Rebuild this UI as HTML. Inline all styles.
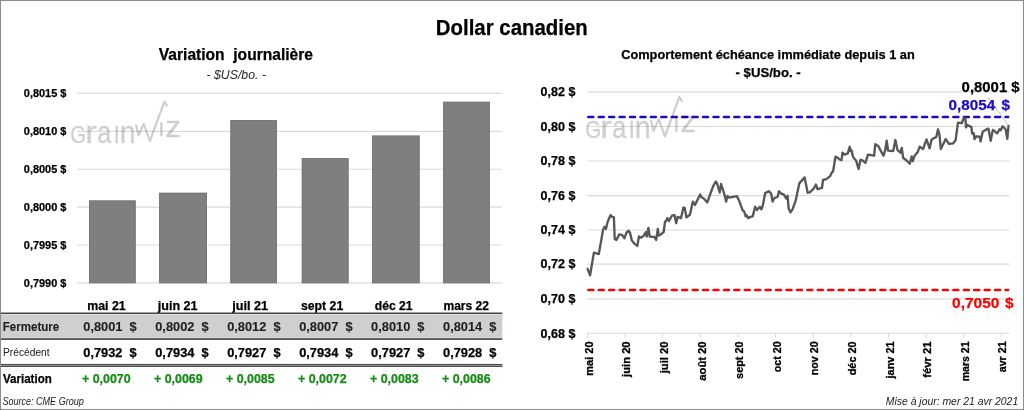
<!DOCTYPE html>
<html lang="fr">
<head>
<meta charset="utf-8">
<title>Dollar canadien</title>
<style>
html,body{margin:0;padding:0;background:#fff;}
body{width:1024px;height:410px;overflow:hidden;}
svg{display:block;font-family:"Liberation Sans", sans-serif;}
</style>
</head>
<body>
<svg width="1024" height="410" viewBox="0 0 1024 410">
<rect x="0" y="0" width="1024" height="410" fill="#fff"/>
<text x="511.8" y="34.6" font-size="21.2" text-anchor="middle" font-weight="bold" stroke="#000" stroke-width="0.25" textLength="152.0" lengthAdjust="spacingAndGlyphs">Dollar canadien</text>
<text x="235.9" y="59.8" font-size="16.2" text-anchor="middle" font-weight="bold" stroke="#000" stroke-width="0.25" textLength="154.2" lengthAdjust="spacingAndGlyphs" xml:space="preserve">Variation  journalière</text>
<text x="236.2" y="78.8" font-size="13.6" text-anchor="middle" font-style="italic" fill="#262626" textLength="59.6" lengthAdjust="spacingAndGlyphs">- $US/bo. -</text>
<line x1="77.2" x2="501.6" y1="93.40" y2="93.40" stroke="#dadada" stroke-width="1.15"/>
<line x1="77.2" x2="501.6" y1="131.30" y2="131.30" stroke="#dadada" stroke-width="1.15"/>
<line x1="77.2" x2="501.6" y1="169.20" y2="169.20" stroke="#dadada" stroke-width="1.15"/>
<line x1="77.2" x2="501.6" y1="207.10" y2="207.10" stroke="#dadada" stroke-width="1.15"/>
<line x1="77.2" x2="501.6" y1="245.00" y2="245.00" stroke="#dadada" stroke-width="1.15"/>
<line x1="77.2" x2="501.6" y1="282.90" y2="282.90" stroke="#dadada" stroke-width="1.15"/>
<text x="66.4" y="97.3" font-size="11.2" text-anchor="end" font-weight="bold" stroke="#000" stroke-width="0.25" textLength="42.6" lengthAdjust="spacingAndGlyphs">0,8015 $</text>
<text x="66.4" y="135.2" font-size="11.2" text-anchor="end" font-weight="bold" stroke="#000" stroke-width="0.25" textLength="42.6" lengthAdjust="spacingAndGlyphs">0,8010 $</text>
<text x="66.4" y="173.1" font-size="11.2" text-anchor="end" font-weight="bold" stroke="#000" stroke-width="0.25" textLength="42.6" lengthAdjust="spacingAndGlyphs">0,8005 $</text>
<text x="66.4" y="211.0" font-size="11.2" text-anchor="end" font-weight="bold" stroke="#000" stroke-width="0.25" textLength="42.6" lengthAdjust="spacingAndGlyphs">0,8000 $</text>
<text x="66.4" y="248.9" font-size="11.2" text-anchor="end" font-weight="bold" stroke="#000" stroke-width="0.25" textLength="42.6" lengthAdjust="spacingAndGlyphs">0,7995 $</text>
<text x="66.4" y="286.8" font-size="11.2" text-anchor="end" font-weight="bold" stroke="#000" stroke-width="0.25" textLength="42.6" lengthAdjust="spacingAndGlyphs">0,7990 $</text>
<rect x="89.0" y="200.5" width="46.65" height="82.4" fill="#7f7f7f"/>
<rect x="89.5" y="201.0" width="45.65" height="81.9" fill="none" stroke="#777" stroke-width="1"/>
<rect x="159.1" y="192.8" width="47.80" height="90.1" fill="#7f7f7f"/>
<rect x="159.6" y="193.3" width="46.80" height="89.6" fill="none" stroke="#777" stroke-width="1"/>
<rect x="230.4" y="120.0" width="46.60" height="162.9" fill="#7f7f7f"/>
<rect x="230.9" y="120.5" width="45.60" height="162.4" fill="none" stroke="#777" stroke-width="1"/>
<rect x="301.8" y="158.0" width="46.70" height="124.9" fill="#7f7f7f"/>
<rect x="302.3" y="158.5" width="45.70" height="124.4" fill="none" stroke="#777" stroke-width="1"/>
<rect x="372.1" y="135.6" width="47.50" height="147.3" fill="#7f7f7f"/>
<rect x="372.6" y="136.1" width="46.50" height="146.8" fill="none" stroke="#777" stroke-width="1"/>
<rect x="443.2" y="101.8" width="46.70" height="181.1" fill="#7f7f7f"/>
<rect x="443.7" y="102.3" width="45.70" height="180.6" fill="none" stroke="#777" stroke-width="1"/>
<g transform="translate(71.6,142.8)" fill="#000" stroke="#000" stroke-width="0.35" opacity="0.19" font-weight="normal"><title>Grainwiz</title>
<text transform="translate(-1.27,0) scale(0.886,1)" font-size="23.0">G</text>
<text transform="translate(13.57,0) scale(1.124,1)" font-size="30.6">r</text>
<text transform="translate(25.77,0) scale(0.827,1)" font-size="30.6">a</text>
<text transform="translate(41.79,0) scale(0.781,1)" font-size="30.6">ı</text>
<text transform="translate(48.16,0) scale(0.931,1)" font-size="30.6">n</text>
<polyline points="64.3,-18 66.9,-7.4 72.2,-19.0 78.3,-1.8 92.8,-41.2 95.8,-36.3" fill="none" stroke-width="2.2" stroke-linejoin="round"/>
<rect x="88.6" y="-20.5" width="2.4" height="14" stroke="none"/>
<text transform="translate(93.6,-5.8) scale(1.06,1)" font-size="29.6">z</text>
</g>
<text x="106.5" y="309.8" font-size="12.4" text-anchor="middle" font-weight="bold" stroke="#000" stroke-width="0.25" textLength="38.5" lengthAdjust="spacingAndGlyphs">mai 21</text>
<text x="177.7" y="309.8" font-size="12.4" text-anchor="middle" font-weight="bold" stroke="#000" stroke-width="0.25" textLength="39.8" lengthAdjust="spacingAndGlyphs">juin 21</text>
<text x="250.2" y="309.8" font-size="12.4" text-anchor="middle" font-weight="bold" stroke="#000" stroke-width="0.25" textLength="36.0" lengthAdjust="spacingAndGlyphs">juil 21</text>
<text x="322.1" y="309.8" font-size="12.4" text-anchor="middle" font-weight="bold" stroke="#000" stroke-width="0.25" textLength="42.2" lengthAdjust="spacingAndGlyphs">sept 21</text>
<text x="393.7" y="309.8" font-size="12.4" text-anchor="middle" font-weight="bold" stroke="#000" stroke-width="0.25" textLength="37.8" lengthAdjust="spacingAndGlyphs">déc 21</text>
<text x="466.2" y="309.8" font-size="12.4" text-anchor="middle" font-weight="bold" stroke="#000" stroke-width="0.25" textLength="45.4" lengthAdjust="spacingAndGlyphs">mars 22</text>
<rect x="1" y="313" width="501.3" height="26" fill="#d0cece"/>
<rect x="1" y="314.0" width="501.3" height="0.9" fill="#e3e1e1"/>
<rect x="1" y="337.3" width="501.3" height="0.9" fill="#dedcdc"/>
<rect x="1" y="312.5" width="501.3" height="1.5" fill="#454545"/>
<rect x="1" y="338.3" width="501.3" height="1.6" fill="#454545"/>
<rect x="1" y="364.0" width="501.3" height="2.95" fill="#a3a3a3"/>
<rect x="1" y="363.95" width="501.3" height="1.1" fill="#4a4a4a"/>
<rect x="1" y="365.9" width="501.3" height="1.1" fill="#4a4a4a"/>
<text x="2.7" y="330.8" font-size="12.4" text-anchor="start" font-weight="bold" stroke="#221f26" stroke-width="0.12" fill="#221f26" textLength="56.6" lengthAdjust="spacingAndGlyphs">Fermeture</text>
<text x="3.0" y="356.4" font-size="11.2" text-anchor="start" fill="#1a1a1a" textLength="46.6" lengthAdjust="spacingAndGlyphs">Précédent</text>
<text x="3.0" y="382.8" font-size="12.4" text-anchor="start" font-weight="bold" stroke="#000" stroke-width="0.25" textLength="48.8" lengthAdjust="spacingAndGlyphs">Variation</text>
<text x="136.7" y="330.6" font-size="12.4" text-anchor="end" font-weight="bold" stroke="#221f26" stroke-width="0.12" fill="#221f26" textLength="53.4" lengthAdjust="spacingAndGlyphs" xml:space="preserve">0,8001  $</text>
<text x="136.7" y="356.9" font-size="12.4" text-anchor="end" font-weight="bold" stroke="#000" stroke-width="0.25" textLength="53.4" lengthAdjust="spacingAndGlyphs" xml:space="preserve">0,7932  $</text>
<text x="106.3" y="382.8" font-size="12.4" text-anchor="middle" font-weight="bold" stroke="#148c14" stroke-width="0.25" fill="#148c14" textLength="48.6" lengthAdjust="spacingAndGlyphs">+ 0,0070</text>
<text x="208.64999999999998" y="330.6" font-size="12.4" text-anchor="end" font-weight="bold" stroke="#221f26" stroke-width="0.12" fill="#221f26" textLength="53.4" lengthAdjust="spacingAndGlyphs" xml:space="preserve">0,8002  $</text>
<text x="208.64999999999998" y="356.9" font-size="12.4" text-anchor="end" font-weight="bold" stroke="#000" stroke-width="0.25" textLength="53.4" lengthAdjust="spacingAndGlyphs" xml:space="preserve">0,7934  $</text>
<text x="178.3" y="382.8" font-size="12.4" text-anchor="middle" font-weight="bold" stroke="#148c14" stroke-width="0.25" fill="#148c14" textLength="48.6" lengthAdjust="spacingAndGlyphs">+ 0,0069</text>
<text x="280.6" y="330.6" font-size="12.4" text-anchor="end" font-weight="bold" stroke="#221f26" stroke-width="0.12" fill="#221f26" textLength="53.4" lengthAdjust="spacingAndGlyphs" xml:space="preserve">0,8012  $</text>
<text x="280.6" y="356.9" font-size="12.4" text-anchor="end" font-weight="bold" stroke="#000" stroke-width="0.25" textLength="53.4" lengthAdjust="spacingAndGlyphs" xml:space="preserve">0,7927  $</text>
<text x="250.3" y="382.8" font-size="12.4" text-anchor="middle" font-weight="bold" stroke="#148c14" stroke-width="0.25" fill="#148c14" textLength="48.6" lengthAdjust="spacingAndGlyphs">+ 0,0085</text>
<text x="352.55" y="330.6" font-size="12.4" text-anchor="end" font-weight="bold" stroke="#221f26" stroke-width="0.12" fill="#221f26" textLength="53.4" lengthAdjust="spacingAndGlyphs" xml:space="preserve">0,8007  $</text>
<text x="352.55" y="356.9" font-size="12.4" text-anchor="end" font-weight="bold" stroke="#000" stroke-width="0.25" textLength="53.4" lengthAdjust="spacingAndGlyphs" xml:space="preserve">0,7934  $</text>
<text x="322.3" y="382.8" font-size="12.4" text-anchor="middle" font-weight="bold" stroke="#148c14" stroke-width="0.25" fill="#148c14" textLength="48.6" lengthAdjust="spacingAndGlyphs">+ 0,0072</text>
<text x="424.5" y="330.6" font-size="12.4" text-anchor="end" font-weight="bold" stroke="#221f26" stroke-width="0.12" fill="#221f26" textLength="53.4" lengthAdjust="spacingAndGlyphs" xml:space="preserve">0,8010  $</text>
<text x="424.5" y="356.9" font-size="12.4" text-anchor="end" font-weight="bold" stroke="#000" stroke-width="0.25" textLength="53.4" lengthAdjust="spacingAndGlyphs" xml:space="preserve">0,7927  $</text>
<text x="394.3" y="382.8" font-size="12.4" text-anchor="middle" font-weight="bold" stroke="#148c14" stroke-width="0.25" fill="#148c14" textLength="48.6" lengthAdjust="spacingAndGlyphs">+ 0,0083</text>
<text x="496.45" y="330.6" font-size="12.4" text-anchor="end" font-weight="bold" stroke="#221f26" stroke-width="0.12" fill="#221f26" textLength="53.4" lengthAdjust="spacingAndGlyphs" xml:space="preserve">0,8014  $</text>
<text x="496.45" y="356.9" font-size="12.4" text-anchor="end" font-weight="bold" stroke="#000" stroke-width="0.25" textLength="53.4" lengthAdjust="spacingAndGlyphs" xml:space="preserve">0,7928  $</text>
<text x="466.3" y="382.8" font-size="12.4" text-anchor="middle" font-weight="bold" stroke="#148c14" stroke-width="0.25" fill="#148c14" textLength="48.6" lengthAdjust="spacingAndGlyphs">+ 0,0086</text>
<text x="2.4" y="404.7" font-size="10.2" text-anchor="start" font-style="italic" fill="#1a1a1a" textLength="81.4" lengthAdjust="spacingAndGlyphs">Source: CME Group</text>
<text x="768.0" y="59.4" font-size="13.6" text-anchor="middle" font-weight="bold" stroke="#000" stroke-width="0.25" textLength="293.6" lengthAdjust="spacingAndGlyphs">Comportement échéance immédiate depuis 1 an</text>
<text x="768.1" y="76.9" font-size="13.6" text-anchor="middle" font-weight="bold" stroke="#000" stroke-width="0.25" textLength="65.2" lengthAdjust="spacingAndGlyphs">- $US/bo. -</text>
<line x1="587.4" x2="1009.3" y1="91.90" y2="91.90" stroke="#dadada" stroke-width="1.15"/>
<line x1="587.4" x2="1009.3" y1="126.45" y2="126.45" stroke="#dadada" stroke-width="1.15"/>
<line x1="587.4" x2="1009.3" y1="161.00" y2="161.00" stroke="#dadada" stroke-width="1.15"/>
<line x1="587.4" x2="1009.3" y1="195.55" y2="195.55" stroke="#dadada" stroke-width="1.15"/>
<line x1="587.4" x2="1009.3" y1="230.00" y2="230.00" stroke="#dadada" stroke-width="1.15"/>
<line x1="587.4" x2="1009.3" y1="264.15" y2="264.15" stroke="#dadada" stroke-width="1.15"/>
<line x1="587.4" x2="1009.3" y1="298.80" y2="298.80" stroke="#dadada" stroke-width="1.15"/>
<line x1="587.4" x2="1009.3" y1="333.20" y2="333.20" stroke="#dadada" stroke-width="1.15"/>
<text x="575.4" y="96.2" font-size="12.4" text-anchor="end" font-weight="bold" stroke="#000" stroke-width="0.25" textLength="34.8" lengthAdjust="spacingAndGlyphs">0,82 $</text>
<text x="575.4" y="130.8" font-size="12.4" text-anchor="end" font-weight="bold" stroke="#000" stroke-width="0.25" textLength="34.8" lengthAdjust="spacingAndGlyphs">0,80 $</text>
<text x="575.4" y="165.3" font-size="12.4" text-anchor="end" font-weight="bold" stroke="#000" stroke-width="0.25" textLength="34.8" lengthAdjust="spacingAndGlyphs">0,78 $</text>
<text x="575.4" y="199.9" font-size="12.4" text-anchor="end" font-weight="bold" stroke="#000" stroke-width="0.25" textLength="34.8" lengthAdjust="spacingAndGlyphs">0,76 $</text>
<text x="575.4" y="234.3" font-size="12.4" text-anchor="end" font-weight="bold" stroke="#000" stroke-width="0.25" textLength="34.8" lengthAdjust="spacingAndGlyphs">0,74 $</text>
<text x="575.4" y="268.4" font-size="12.4" text-anchor="end" font-weight="bold" stroke="#000" stroke-width="0.25" textLength="34.8" lengthAdjust="spacingAndGlyphs">0,72 $</text>
<text x="575.4" y="303.1" font-size="12.4" text-anchor="end" font-weight="bold" stroke="#000" stroke-width="0.25" textLength="34.8" lengthAdjust="spacingAndGlyphs">0,70 $</text>
<text x="575.4" y="337.5" font-size="12.4" text-anchor="end" font-weight="bold" stroke="#000" stroke-width="0.25" textLength="34.8" lengthAdjust="spacingAndGlyphs">0,68 $</text>
<line x1="587.5" x2="587.5" y1="333" y2="337.6" stroke="#d9d9d9" stroke-width="1"/>
<line x1="625.1" x2="625.1" y1="333" y2="337.6" stroke="#d9d9d9" stroke-width="1"/>
<line x1="662.7" x2="662.7" y1="333" y2="337.6" stroke="#d9d9d9" stroke-width="1"/>
<line x1="700.4" x2="700.4" y1="333" y2="337.6" stroke="#d9d9d9" stroke-width="1"/>
<line x1="738.0" x2="738.0" y1="333" y2="337.6" stroke="#d9d9d9" stroke-width="1"/>
<line x1="775.6" x2="775.6" y1="333" y2="337.6" stroke="#d9d9d9" stroke-width="1"/>
<line x1="813.2" x2="813.2" y1="333" y2="337.6" stroke="#d9d9d9" stroke-width="1"/>
<line x1="850.8" x2="850.8" y1="333" y2="337.6" stroke="#d9d9d9" stroke-width="1"/>
<line x1="888.5" x2="888.5" y1="333" y2="337.6" stroke="#d9d9d9" stroke-width="1"/>
<line x1="926.1" x2="926.1" y1="333" y2="337.6" stroke="#d9d9d9" stroke-width="1"/>
<line x1="963.7" x2="963.7" y1="333" y2="337.6" stroke="#d9d9d9" stroke-width="1"/>
<line x1="1001.3" x2="1001.3" y1="333" y2="337.6" stroke="#d9d9d9" stroke-width="1"/>
<text transform="translate(592.6,341.4) rotate(-90)" x="0" y="0" font-size="11.2" font-weight="bold" stroke="#000" stroke-width="0.3" text-anchor="end" textLength="34.3" lengthAdjust="spacingAndGlyphs">mai 20</text>
<text transform="translate(630.2,341.4) rotate(-90)" x="0" y="0" font-size="11.2" font-weight="bold" stroke="#000" stroke-width="0.3" text-anchor="end" textLength="35.5" lengthAdjust="spacingAndGlyphs">juin 20</text>
<text transform="translate(667.8,341.4) rotate(-90)" x="0" y="0" font-size="11.2" font-weight="bold" stroke="#000" stroke-width="0.3" text-anchor="end" textLength="31.9" lengthAdjust="spacingAndGlyphs">juil 20</text>
<text transform="translate(705.5,341.4) rotate(-90)" x="0" y="0" font-size="11.2" font-weight="bold" stroke="#000" stroke-width="0.3" text-anchor="end" textLength="39.3" lengthAdjust="spacingAndGlyphs">août 20</text>
<text transform="translate(743.1,341.4) rotate(-90)" x="0" y="0" font-size="11.2" font-weight="bold" stroke="#000" stroke-width="0.3" text-anchor="end" textLength="37.5" lengthAdjust="spacingAndGlyphs">sept 20</text>
<text transform="translate(780.7,341.4) rotate(-90)" x="0" y="0" font-size="11.2" font-weight="bold" stroke="#000" stroke-width="0.3" text-anchor="end" textLength="30.9" lengthAdjust="spacingAndGlyphs">oct 20</text>
<text transform="translate(818.3,341.4) rotate(-90)" x="0" y="0" font-size="11.2" font-weight="bold" stroke="#000" stroke-width="0.3" text-anchor="end" textLength="33.9" lengthAdjust="spacingAndGlyphs">nov 20</text>
<text transform="translate(855.9,341.4) rotate(-90)" x="0" y="0" font-size="11.2" font-weight="bold" stroke="#000" stroke-width="0.3" text-anchor="end" textLength="33.9" lengthAdjust="spacingAndGlyphs">déc 20</text>
<text transform="translate(893.6,341.4) rotate(-90)" x="0" y="0" font-size="11.2" font-weight="bold" stroke="#000" stroke-width="0.3" text-anchor="end" textLength="37.1" lengthAdjust="spacingAndGlyphs">janv 21</text>
<text transform="translate(931.2,341.4) rotate(-90)" x="0" y="0" font-size="11.2" font-weight="bold" stroke="#000" stroke-width="0.3" text-anchor="end" textLength="36.3" lengthAdjust="spacingAndGlyphs">févr 21</text>
<text transform="translate(968.8,341.4) rotate(-90)" x="0" y="0" font-size="11.2" font-weight="bold" stroke="#000" stroke-width="0.3" text-anchor="end" textLength="39.9" lengthAdjust="spacingAndGlyphs">mars 21</text>
<text transform="translate(1006.4,341.4) rotate(-90)" x="0" y="0" font-size="11.2" font-weight="bold" stroke="#000" stroke-width="0.3" text-anchor="end" textLength="30.9" lengthAdjust="spacingAndGlyphs">avr 21</text>
<line x1="588.4" x2="1008.1" y1="116.95" y2="116.95" stroke="#1b0cc6" stroke-width="2.65" stroke-dasharray="4.85 5.58" stroke-linecap="round"/>
<line x1="588.4" x2="1008.1" y1="289.95" y2="289.95" stroke="#ff0000" stroke-width="2.65" stroke-dasharray="4.85 5.58" stroke-linecap="round"/>
<g transform="translate(586.6,138.2)" fill="#000" stroke="#000" stroke-width="0.35" opacity="0.19" font-weight="normal"><title>Grainwiz</title>
<text transform="translate(-1.27,0) scale(0.886,1)" font-size="23.0">G</text>
<text transform="translate(13.57,0) scale(1.124,1)" font-size="30.6">r</text>
<text transform="translate(25.77,0) scale(0.827,1)" font-size="30.6">a</text>
<text transform="translate(41.79,0) scale(0.781,1)" font-size="30.6">ı</text>
<text transform="translate(48.16,0) scale(0.931,1)" font-size="30.6">n</text>
<polyline points="64.3,-18 66.9,-7.4 72.2,-19.0 78.3,-1.8 92.8,-41.2 95.8,-36.3" fill="none" stroke-width="2.2" stroke-linejoin="round"/>
<rect x="88.6" y="-20.5" width="2.4" height="14" stroke="none"/>
<text transform="translate(93.6,-5.8) scale(1.06,1)" font-size="29.6">z</text>
</g>
<line x1="988" y1="97.5" x2="1008.5" y2="125.6" stroke="#b0b0b0" stroke-width="0.8"/>
<polyline fill="none" stroke="#575757" stroke-width="2.35" stroke-linejoin="round" stroke-linecap="round" points="587.6,268.8 590.1,275.3 593.9,252.6 596.3,253.3 598.8,254.0 603.1,229.6 604.8,226.7 605.9,229.1 607.6,222.0 610.5,215.1 612.2,216.8 613.9,217.2 614.7,239.0 616.4,239.9 619.3,234.4 621.9,234.8 624.5,238.2 626.7,232.2 628.7,230.8 630.1,233.0 631.8,240.4 634.0,243.3 637.3,245.9 639.0,236.5 641.2,237.7 643.8,235.6 645.8,232.2 646.8,236.5 648.4,227.9 649.7,236.5 652.3,236.8 654.3,236.8 656.2,239.9 657.8,228.8 658.8,235.6 660.8,234.4 663.7,232.0 665.0,221.8 666.0,221.2 667.3,218.1 669.0,220.9 671.9,215.7 674.5,215.2 676.2,223.2 677.6,216.9 681.0,218.1 683.4,207.5 684.7,207.9 686.4,217.4 689.9,214.7 692.9,201.6 695.0,205.0 700.1,194.4 701.5,197.3 703.5,198.2 707.3,202.4 711.2,191.3 713.2,186.2 715.8,181.6 717.2,183.7 719.7,192.5 721.1,184.0 724.0,193.0 726.2,201.6 727.4,195.9 729.1,197.6 736.8,196.1 738.8,199.9 742.8,210.6 744.0,211.0 745.7,216.4 746.7,215.2 748.2,218.1 750.4,216.9 752.7,216.4 755.1,206.7 757.0,209.9 759.9,206.8 761.4,209.3 762.8,205.4 765.2,193.1 768.7,191.2 771.2,193.7 772.6,201.5 774.5,198.0 777.5,197.0 779.0,191.2 781.4,193.7 783.9,194.7 786.3,198.6 787.6,195.7 788.6,208.4 790.5,212.3 792.5,209.3 795.6,200.9 799.3,183.4 804.6,177.4 807.7,192.7 809.7,192.3 813.6,188.8 815.9,184.5 817.5,189.2 822.0,187.9 823.0,180.0 826.3,179.1 830.2,176.1 831.6,172.8 833.1,171.3 835.5,156.6 838.0,158.0 839.6,159.5 841.5,160.1 842.5,152.7 844.5,154.6 847.8,153.3 849.7,146.8 850.6,151.0 851.4,150.1 853.1,156.9 856.2,160.9 858.6,168.9 860.5,159.8 862.5,160.3 865.4,162.9 868.0,154.7 871.0,155.2 874.1,155.7 875.3,144.1 878.4,146.2 881.3,151.8 883.5,155.7 885.2,150.1 886.7,140.7 888.1,150.6 893.2,151.0 895.4,139.9 897.5,150.1 900.4,152.7 901.8,147.9 903.1,157.8 906.9,160.7 909.8,163.8 911.7,156.4 912.8,161.2 914.6,155.7 917.6,152.3 919.7,146.7 923.1,148.9 926.5,139.4 929.6,148.4 931.4,140.2 933.0,138.6 936.3,137.0 938.0,129.4 939.5,134.9 940.8,149.0 945.7,139.1 948.9,143.9 953.2,143.3 955.6,140.2 958.0,122.6 961.7,123.2 963.5,118.7 965.4,118.3 966.0,127.4 967.2,125.0 971.5,127.1 972.1,133.5 973.7,133.2 974.5,139.0 976.3,136.3 979.8,136.6 980.6,141.5 982.7,131.7 985.5,129.9 988.5,128.7 990.7,140.9 992.8,129.9 994.6,131.1 997.1,133.5 999.5,129.3 1000.7,130.2 1002.6,126.2 1005.6,129.3 1007.3,138.8 1008.5,126.0"/>
<text x="1019.6" y="92.1" font-size="14.9" text-anchor="end" font-weight="bold" stroke="#000" stroke-width="0.25" textLength="58.0" lengthAdjust="spacingAndGlyphs">0,8001 $</text>
<text x="1010.0" y="109.7" font-size="14.9" text-anchor="end" font-weight="bold" stroke="#1b0cc6" stroke-width="0.25" fill="#1b0cc6" textLength="61.4" lengthAdjust="spacingAndGlyphs" xml:space="preserve" style="word-spacing:-1px">0,8054  $</text>
<text x="1013.5" y="308.3" font-size="14.9" text-anchor="end" font-weight="bold" stroke="#ff0000" stroke-width="0.25" fill="#ff0000" textLength="61.4" lengthAdjust="spacingAndGlyphs" xml:space="preserve" style="word-spacing:-1.5px">0,7050  $</text>
<text x="1018.2" y="404.6" font-size="10.2" text-anchor="end" font-style="italic" fill="#1a1a1a" textLength="132.4" lengthAdjust="spacingAndGlyphs">Mise à jour: mer 21 avr 2021</text>
<rect x="0.5" y="0.5" width="1023" height="409" fill="none" stroke="#8c8c8c" stroke-width="1"/>
</svg>
</body>
</html>
